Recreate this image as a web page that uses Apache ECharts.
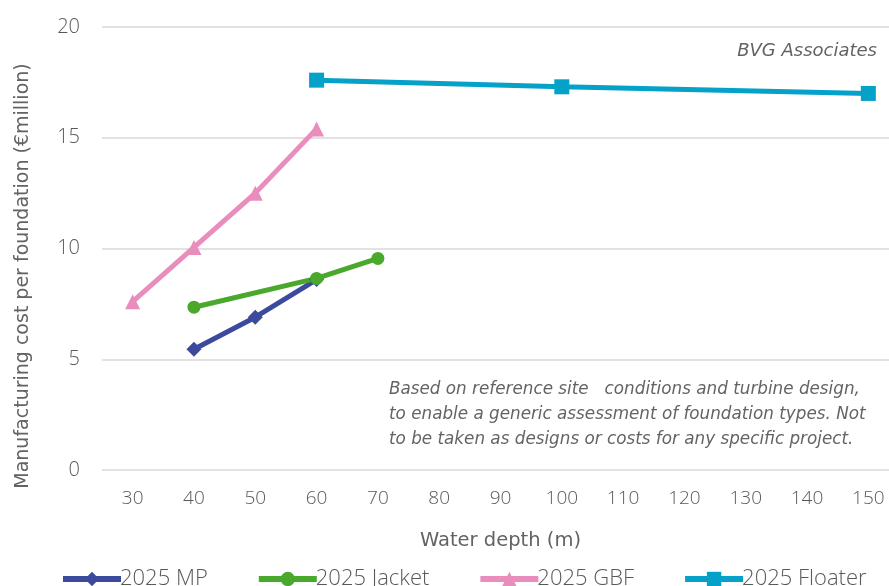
<!DOCTYPE html>
<html>
<head>
<meta charset="utf-8">
<script src="https://cdn.jsdelivr.net/npm/echarts@6/dist/echarts.min.js"></script>
<style>
  html, body { margin: 0; padding: 0; background: #fff; }
  #chart { width: 889px; height: 586px; }
</style>
</head>
<body>
<div id="chart"></div>
<script>
// Water depths (m) on the category axis
const depths = ['30', '40', '50', '60', '70', '80', '90', '100', '110', '120', '130', '140', '150'];

// Manufacturing cost per foundation (€million) by water depth
const mpData      = [['40', 5.45], ['50', 6.9], ['60', 8.6]];
const jacketData  = [['40', 7.35], ['60', 8.65], ['70', 9.55]];
const gbfData     = [['30', 7.6], ['40', 10.05], ['50', 12.5], ['60', 15.4]];
const floaterData = [['60', 17.6], ['100', 17.3], ['150', 17.0]];

const yTicks = [0, 5, 10, 15, 20];

const FONT = '"Open Sans", Roboto, sans-serif';
const WIDE = '"DejaVu Sans", "Open Sans", sans-serif';
const TEXT = '#595959';
const SOFT = '#636363';

const chart = echarts.init(document.getElementById('chart'));

function line(name, data, color, symbol, size) {
  return {
    name: name,
    type: 'line',
    data: data,
    color: color,
    symbol: symbol,
    symbolSize: size,
    showSymbol: true,
    lineStyle: { width: 5, color: color },
    itemStyle: { color: color },
    animation: false
  };
}

chart.setOption({
  backgroundColor: '#ffffff',
  grid: { left: 102, top: 27, width: 797, height: 443, outerBoundsMode: 'none', containLabel: false },
  xAxis: {
    type: 'category',
    data: depths,
    boundaryGap: true,
    name: 'Water depth (m)',
    nameLocation: 'middle',
    nameGap: 61,
    nameTextStyle: { fontFamily: WIDE, fontSize: 19.5, color: SOFT },
    axisLine: { show: false },
    axisTick: { show: false },
    axisLabel: { fontFamily: FONT, fontSize: 19, color: TEXT, margin: 19, fontWeight: 300 }
  },
  yAxis: {
    type: 'value',
    min: yTicks[0],
    max: yTicks[yTicks.length - 1],
    interval: 5,
    axisLine: { show: false },
    axisTick: { show: false },
    splitLine: { lineStyle: { color: '#d9d9d9', width: 1.5 } },
    axisLabel: { fontFamily: FONT, fontSize: 20, color: TEXT, margin: 22, fontWeight: 300 }
  },
  legend: {
    bottom: -9,
    left: 55,
    itemWidth: 58,
    itemHeight: 18,
    itemGap: 48,
    lineStyle: { width: 6 },
    textStyle: { fontFamily: FONT, fontSize: 22, color: TEXT, fontWeight: 300, padding: [0, 0, 0, -6] },
    data: ['2025 MP', '2025 Jacket', '2025 GBF', '2025 Floater']
  },
  graphic: [
    {
      type: 'text',
      x: 23, y: 276,
      rotation: Math.PI / 2,
      style: {
        text: 'Manufacturing cost per foundation (€million)',
        font: '19px ' + WIDE,
        fill: SOFT,
        align: 'center',
        verticalAlign: 'middle'
      }
    },
    {
      type: 'text',
      right: 12, top: 42,
      style: {
        text: 'BVG Associates',
        font: 'italic 18px ' + WIDE,
        fill: SOFT
      }
    },
    {
      type: 'text',
      left: 389, top: 377,
      style: {
        text: 'Based on reference site   conditions and turbine design,\nto enable a generic assessment of foundation types. Not\nto be taken as designs or costs for any specific project.',
        font: 'italic 16.8px ' + WIDE,
        lineHeight: 25,
        fill: SOFT
      }
    }
  ],
  series: [
    line('2025 MP', mpData, '#3c4a9e', 'diamond', 15),
    line('2025 Jacket', jacketData, '#4aa82c', 'circle', 13),
    line('2025 GBF', gbfData, '#e98dbd', 'triangle', 15),
    line('2025 Floater', floaterData, '#05a1c8', 'rect', 15)
  ]
});
</script>
</body>
</html>
